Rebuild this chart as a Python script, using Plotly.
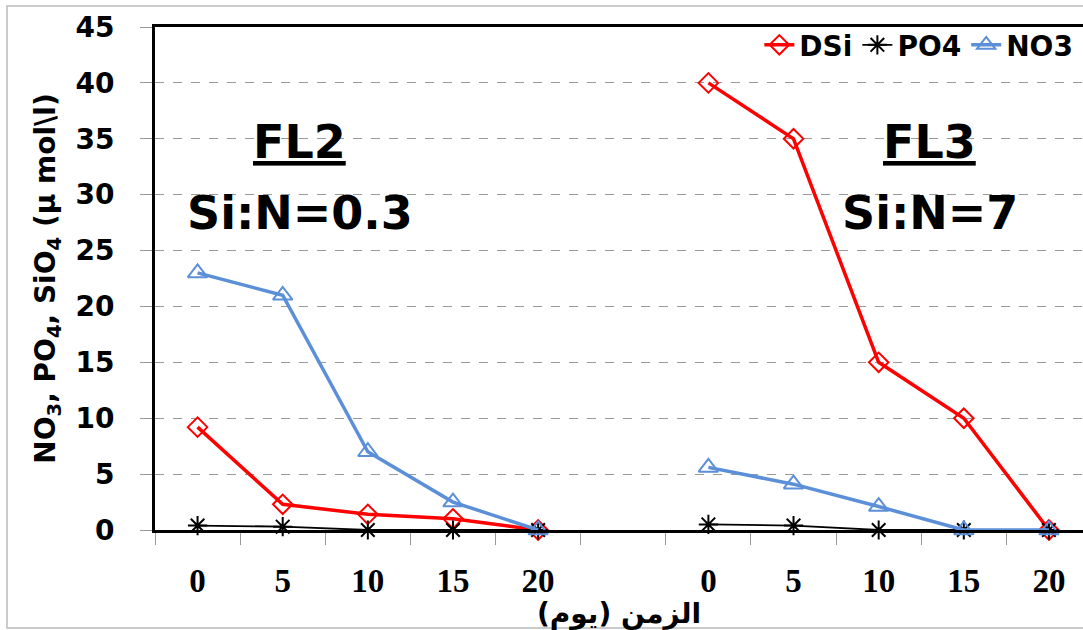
import plotly.graph_objects as go

# ---- data ----
days = ["0", "5", "10", "15", "20"]
groups = ["FL2", "FL3"]
dsi_fl2 = [9.2, 2.3, 1.4, 1.0, 0.0]
dsi_fl3 = [40.0, 35.0, 15.0, 10.0, 0.0]
po4_fl2 = [0.4, 0.3, 0.0, 0.0, 0.0]
po4_fl3 = [0.5, 0.4, 0.0, 0.0, 0.0]
no3_fl2 = [23.0, 21.0, 7.0, 2.5, 0.0]
no3_fl3 = [5.6, 4.1, 2.1, 0.0, 0.0]
ratio_labels = ["Si:N=0.3", "Si:N=7"]

# slots: group FL2 -> 0..4, empty slot 5, FL3 -> 6..10
x_pos = list(range(len(days) * 2 + 1))
tick_text = days + [""] + days

def join(a, b):
    return list(a) + [None] + list(b)

W, H = 1083, 630
ML, MR, MT, MB = 155, 0, 27, 100

fig = go.Figure()
fig.add_trace(go.Scatter(
    x=x_pos, y=join(dsi_fl2, dsi_fl3), name="DSi", mode="lines+markers",
    line=dict(color="#FF0000", width=3.5),
    marker=dict(symbol="diamond-open", size=15, color="#FF0000", line=dict(width=2, color="#FF0000")),
    cliponaxis=False,
))
fig.add_trace(go.Scatter(
    x=x_pos, y=join(po4_fl2, po4_fl3), name="PO4", mode="lines+markers",
    line=dict(color="#000000", width=1.8),
    marker=dict(symbol="asterisk-open", size=16, color="#000000", line=dict(width=2, color="#000000")),
    cliponaxis=False,
))
fig.add_trace(go.Scatter(
    x=x_pos, y=join(no3_fl2, no3_fl3), name="NO3", mode="lines+markers",
    line=dict(color="#5B8FD8", width=3.5),
    marker=dict(symbol="triangle-up-open", size=17, color="#5B8FD8", line=dict(width=2, color="#5B8FD8")),
    cliponaxis=False,
))

big_font = dict(family="DejaVu Sans", size=46, color="#000000")
for gi, g in enumerate(groups):
    cx = 1.2 if gi == 0 else 8.6
    fig.add_annotation(x=cx, y=34.7, xref="x", yref="y", text="<b><u>" + g + "</u></b>",
                       showarrow=False, font=big_font, xanchor="center", yanchor="middle")
    fig.add_annotation(x=cx, y=28.4, xref="x", yref="y", text="<b>" + ratio_labels[gi] + "</b>",
                       showarrow=False, font=big_font, xanchor="center", yanchor="middle")

plot_w = W - ML - MR
plot_h = H - MT - MB
# outer grey frame of the chart
fig.add_shape(type="rect", xref="paper", yref="paper",
              x0=(7 - ML) / plot_w, x1=(W + 5 - ML) / plot_w,
              y0=(H - MB - 628) / plot_h, y1=(H - MB - 6) / plot_h,
              line=dict(color="#BBBBBB", width=1.5), fillcolor="rgba(0,0,0,0)", layer="below")

fig.update_layout(
    width=W, height=H,
    margin=dict(l=ML, r=MR, t=MT, b=MB),
    paper_bgcolor="white", plot_bgcolor="white",
    showlegend=True,
    legend=dict(orientation="h", x=0.995, xanchor="right", y=0.964, yanchor="middle",
                font=dict(family="DejaVu Sans", size=28, color="#000000", weight="bold"),
                bgcolor="rgba(0,0,0,0)", itemwidth=30, tracegroupgap=0),
    xaxis=dict(
        range=[-0.5, 10.4],
        tickmode="array", tickvals=x_pos, ticktext=tick_text,
        ticks="", showgrid=False, zeroline=False,
        showline=True, linecolor="#000000", linewidth=2.5, mirror=True,
        tickfont=dict(family="Liberation Serif", size=33, color="#000000", weight="bold"),
        ticklabelstandoff=20,
        minor=dict(tickmode="linear", tick0=-0.5, dtick=1, ticks="outside", ticklen=12,
                   tickcolor="#999999", tickwidth=1, showgrid=False),
        title=dict(text="<b>الزمن (يوم)</b>", font=dict(family="DejaVu Sans", size=28, color="#000000"),
                   standoff=0),
    ),
    yaxis=dict(
        range=[0, 45], tickmode="linear", tick0=0, dtick=5,
        ticks="outside", ticklen=12, tickcolor="#999999", tickwidth=1,
        showgrid=True, gridcolor="#9A9A9A", griddash="dash", gridwidth=1,
        zeroline=False, showline=True, linecolor="#000000", linewidth=3,
        tickfont=dict(family="DejaVu Sans", size=28, color="#000000", weight="bold"),
        ticklabelstandoff=20,
        title=dict(text="<b>NO<sub>3</sub>, PO<sub>4</sub>, SiO<sub>4</sub> (μ mol\\l)</b>",
                   font=dict(family="DejaVu Sans", size=28, color="#000000"), standoff=12),
    ),
)

fig.write_html("out.html")
